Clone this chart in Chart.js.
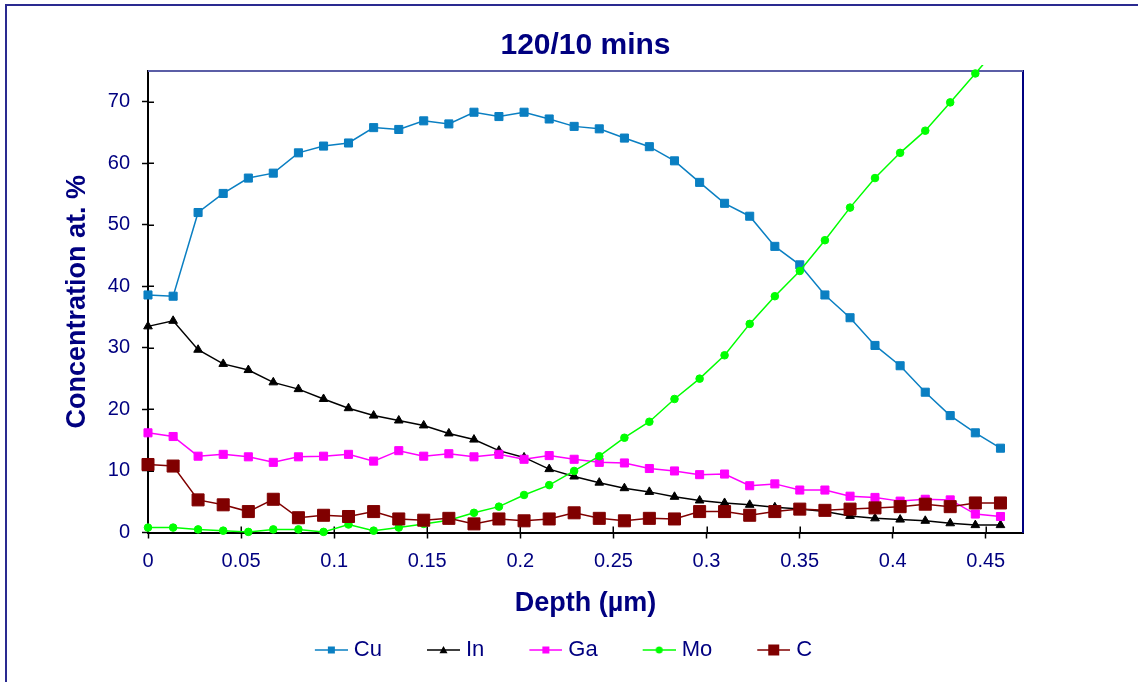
<!DOCTYPE html>
<html>
<head>
<meta charset="utf-8">
<script src="https://cdn.jsdelivr.net/npm/chart.js@4.4.1/dist/chart.umd.min.js"></script>
<style>
    html, body { margin: 0; padding: 0; background: #fff; overflow: hidden; }
    #frame {
        position: absolute; left: 5px; top: 4px; width: 1160px; height: 700px;
        border-left: 2px solid #2a2a90; border-top: 2px solid #2a2a90;
    }
    #chart { position: absolute; left: 0; top: 0; width: 1148px; height: 684px; }
</style>
</head>
<body>
<div id="frame"><canvas id="chart" width="1148" height="684"></canvas></div>
<script>
// depth in µm
const depth = [0, 0.0135, 0.0269, 0.0404, 0.0539, 0.0673, 0.0808, 0.0943, 0.1077, 0.1212,
    0.1347, 0.1481, 0.1616, 0.1751, 0.1885, 0.2020, 0.2155, 0.2289, 0.2424, 0.2559,
    0.2693, 0.2828, 0.2963, 0.3097, 0.3232, 0.3367, 0.3501, 0.3636, 0.3771, 0.3905,
    0.4040, 0.4175, 0.4309, 0.4444, 0.4579];

const cu = [38.6, 38.4, 52.0, 55.1, 57.6, 58.4, 61.7, 62.8, 63.3, 65.8,
    65.5, 66.9, 66.4, 68.3, 67.6, 68.3, 67.2, 66.0, 65.6, 64.1,
    62.7, 60.4, 56.9, 53.5, 51.4, 46.5, 43.5, 38.6, 34.9, 30.4,
    27.1, 22.8, 19.0, 16.2, 13.7];
const indium = [33.5, 34.4, 29.7, 27.4, 26.4, 24.4, 23.3, 21.7, 20.2, 19.0,
    18.2, 17.4, 16.1, 15.1, 13.3, 12.2, 10.3, 9.1, 8.1, 7.2,
    6.6, 5.8, 5.2, 4.8, 4.5, 4.1, 3.8, 3.4, 2.7, 2.3,
    2.1, 1.9, 1.5, 1.2, 1.2];
const ga = [16.2, 15.6, 12.4, 12.7, 12.3, 11.4, 12.3, 12.4, 12.7, 11.6,
    13.3, 12.4, 12.8, 12.3, 12.7, 11.9, 12.5, 11.9, 11.4, 11.3,
    10.4, 10.0, 9.4, 9.5, 7.6, 7.9, 6.9, 6.9, 5.9, 5.7,
    5.1, 5.4, 5.3, 3.0, 2.6];
const mo = [0.8, 0.8, 0.5, 0.3, 0.1, 0.5, 0.5, 0.1, 1.3, 0.3,
    0.8, 1.4, 2.0, 3.2, 4.2, 6.1, 7.7, 10.0, 12.4, 15.4,
    18.0, 21.7, 25.0, 28.8, 33.9, 38.4, 42.5, 47.5, 52.8, 57.6,
    61.7, 65.3, 69.9, 74.6, 79.3];
const carbon = [11.05, 10.8, 5.3, 4.5, 3.4, 5.4, 2.4, 2.8, 2.6, 3.4,
    2.2, 2.0, 2.3, 1.4, 2.2, 1.9, 2.2, 3.2, 2.3, 1.9,
    2.3, 2.2, 3.4, 3.4, 2.8, 3.4, 3.8, 3.6, 3.8, 4.0,
    4.2, 4.6, 4.2, 4.8, 4.8];

const xTicks = [0, 0.05, 0.1, 0.15, 0.2, 0.25, 0.3, 0.35, 0.4, 0.45];
const yTicks = [0, 10, 20, 30, 40, 50, 60, 70];

const NAVY = "#000080";
const FONT = "'Liberation Sans', Arial, sans-serif";

function pts(values) {
    return depth.map(function(d, i) { return { x: d, y: values[i] }; });
}

// small line+marker picture for the legend, like Excel draws it
function legendIcon(color, shape, size) {
    const c = document.createElement("canvas");
    c.width = 64;
    c.height = 16;
    const g = c.getContext("2d");
    g.strokeStyle = color;
    g.fillStyle = color;
    g.lineWidth = 1.5;
    g.beginPath();
    g.moveTo(31, 8);
    g.lineTo(64, 8);
    g.stroke();
    const cx = 47.5, cy = 8, h = size / 2;
    g.beginPath();
    if (shape === "rect") {
        g.rect(cx - h, cy - h, size, size);
    } else if (shape === "triangle") {
        g.moveTo(cx, cy - h);
        g.lineTo(cx + h, cy + h * 0.8);
        g.lineTo(cx - h, cy + h * 0.8);
        g.closePath();
    } else {
        g.arc(cx, cy, h, 0, Math.PI * 2);
    }
    g.fill();
    return c;
}

const series = [
    { label: "Cu", values: cu, color: "#0a7fc2", shape: "rect", radius: 5.7, icon: 7 },
    { label: "In", values: indium, color: "#000000", shape: "triangle", radius: 5, icon: 8 },
    { label: "Ga", values: ga, color: "#ff00ff", shape: "rect", radius: 5.7, icon: 7 },
    { label: "Mo", values: mo, color: "#00ff00", shape: "circle", radius: 3.8, icon: 7 },
    { label: "C", values: carbon, color: "#800000", shape: "rect", radius: 8.5, icon: 11 }
];

// inner half of the tick marks and the top edge of the plot area
const plotFrame = {
    id: "plotFrame",
    beforeDatasetsDraw: function(chart) {
        const ctx = chart.ctx;
        const a = chart.chartArea;
        const x = chart.scales.x, y = chart.scales.y;
        ctx.save();
        ctx.strokeStyle = "#000";
        ctx.lineWidth = 1.5;
        ctx.beginPath();
        y.ticks.forEach(function(t) {
            const py = Math.round(y.getPixelForValue(t.value)) + 0.25;
            ctx.moveTo(a.left, py);
            ctx.lineTo(a.left + 6, py);
        });
        x.ticks.forEach(function(t) {
            const px = Math.round(x.getPixelForValue(t.value)) + 0.25;
            ctx.moveTo(px, a.bottom);
            ctx.lineTo(px, a.bottom - 6);
        });
        ctx.stroke();
        ctx.strokeStyle = "#5b5ea6";
        ctx.lineWidth = 2;
        ctx.beginPath();
        ctx.moveTo(a.left, a.top);
        ctx.lineTo(a.right, a.top);
        ctx.stroke();
        ctx.restore();
    }
};

document.addEventListener("DOMContentLoaded", function() {
    const ctx = document.getElementById("chart").getContext("2d");
    new Chart(ctx, {
        type: "line",
        data: {
            datasets: series.map(function(s, i) {
                return {
                    label: s.label,
                    data: pts(s.values),
                    borderColor: s.color,
                    backgroundColor: s.color,
                    borderWidth: 1.5,
                    pointStyle: s.shape,
                    pointRadius: s.radius,
                    pointBorderWidth: 1,
                    pointBackgroundColor: s.color,
                    pointBorderColor: s.color,
                    order: series.length - i,
                    clip: s.label === "Mo" ? { left: 10, top: 6, right: 10, bottom: 10 } : false
                };
            })
        },
        options: {
            responsive: false,
            animation: false,
            devicePixelRatio: 1,
            layout: { padding: { left: 0, right: 61, top: 0, bottom: 19 } },
            scales: {
                x: {
                    type: "linear",
                    position: "bottom",
                    min: 0,
                    max: 0.47,
                    afterBuildTicks: function(s) { s.ticks = xTicks.map(function(v) { return { value: v }; }); },
                    afterFit: function(s) { s.height = 87.5; },
                    ticks: {
                        color: NAVY,
                        font: { family: FONT, size: 20 },
                        padding: 11,
                        maxRotation: 0,
                        autoSkip: false,
                        callback: function(v) { return String(v); }
                    },
                    grid: { display: true, drawOnChartArea: false, tickLength: 6, tickColor: "#000", tickWidth: 1.5 },
                    border: { display: true, color: "#000", width: 2 },
                    title: {
                        display: true,
                        text: "Depth (µm)",
                        color: NAVY,
                        font: { family: FONT, size: 27, weight: "bold" },
                        padding: { top: 0, bottom: 0 }
                    }
                },
                y: {
                    type: "linear",
                    position: "left",
                    min: 0,
                    max: 75,
                    afterBuildTicks: function(s) { s.ticks = yTicks.map(function(v) { return { value: v }; }); },
                    afterFit: function(s) { s.width = 141; },
                    ticks: {
                        color: NAVY,
                        font: { family: FONT, size: 20 },
                        padding: 12
                    },
                    grid: { display: true, drawOnChartArea: false, tickLength: 6, tickColor: "#000", tickWidth: 1.5 },
                    border: { display: true, color: "#000", width: 2 },
                    title: {
                        display: true,
                        text: "Concentration at. %",
                        color: NAVY,
                        font: { family: FONT, size: 27, weight: "bold" },
                        padding: { top: 54.8, bottom: 0 }
                    }
                },
                y2: {
                    type: "linear",
                    position: "right",
                    afterFit: function(s) { s.width = 71; },
                    ticks: { display: false },
                    grid: { display: false },
                    border: { display: true, color: NAVY, width: 2 }
                }
            },
            plugins: {
                title: {
                    display: true,
                    text: "120/10 mins",
                    color: NAVY,
                    fullSize: false,
                    font: { family: FONT, size: 30, weight: "bold" },
                    padding: { top: 22, bottom: 7 }
                },
                legend: {
                    position: "bottom",
                    labels: {
                        usePointStyle: true,
                        pointStyleWidth: 54,
                        padding: 19,
                        color: NAVY,
                        font: { family: FONT, size: 22 },
                        generateLabels: function(chart) {
                            return series.map(function(s, i) {
                                return {
                                    text: s.label,
                                    datasetIndex: i,
                                    fontColor: NAVY,
                                    pointStyle: legendIcon(s.color, s.shape, s.icon),
                                    fillStyle: "transparent",
                                    strokeStyle: "transparent",
                                    lineWidth: 0,
                                    hidden: false
                                };
                            });
                        }
                    }
                },
                tooltip: { enabled: false }
            }
        },
        plugins: [plotFrame]
    });
});
</script>
</body>
</html>
